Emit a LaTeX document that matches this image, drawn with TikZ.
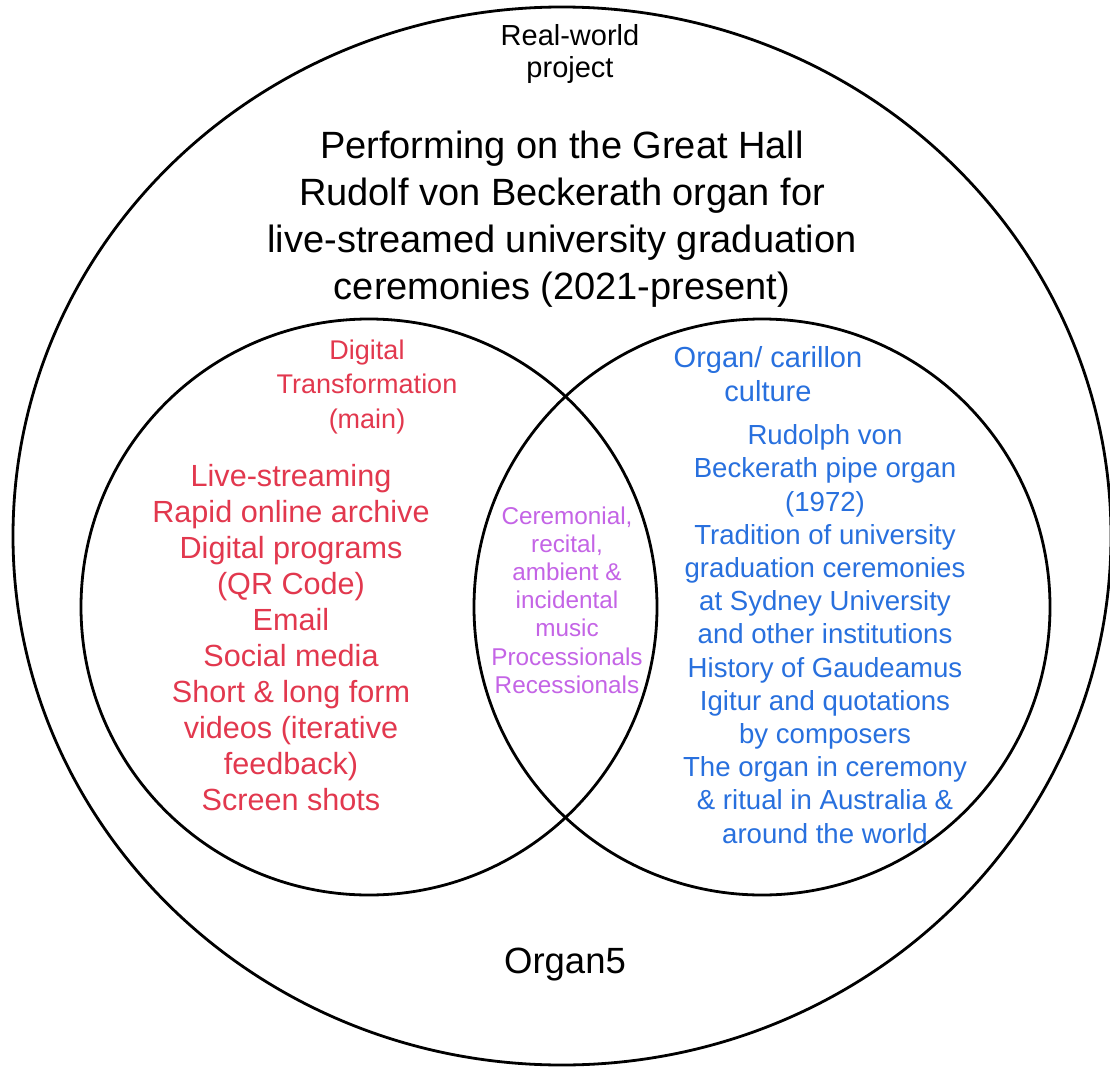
\documentclass[tikz,border=0pt]{standalone}
\usepackage{fontspec}
\setmainfont{Liberation Sans}
\definecolor{dtred}{RGB}{226,56,78}
\definecolor{ocblue}{RGB}{40,112,222}
\definecolor{mixpurple}{RGB}{196,100,230}
\tikzset{
  ring/.style={draw=black, line width=2.8pt},
  txt/.style={inner sep=0pt, align=center},
}
\newcommand{\fs}[2]{\fontsize{#1}{#2}\selectfont}
\begin{document}
\begin{tikzpicture}[x=1pt,y=-1pt]
\useasboundingbox (0,0) rectangle (1110,1067);
\fill[white] (0,0) rectangle (1110,1067);
% circles
\draw[ring] (562,536) ellipse [x radius=549, y radius=529];
\draw[ring] (369,607) circle [radius=288];
\draw[ring] (762,607) circle [radius=288];
% texts
\node[txt, font=\fs{29}{32}] (rw) at (570,54) {Real-world\\project};
\node[txt, font=\fs{38}{47}] (title) at (562,219) {Performing on the Great Hall\\Rudolf von Beckerath organ for\\live-streamed university graduation\\ceremonies (2021-present)};
\node[txt, font=\fs{27}{34.5}, text=dtred] (dth) at (367,387) {Digital\\Transformation\\(main)};
\node[txt, font=\fs{30.6}{36}, text=dtred] (dtb) at (291,638) {Live-streaming\\Rapid online archive\\Digital programs\\(QR Code)\\Email\\Social media\\Short \& long form\\videos (iterative\\feedback)\\Screen shots};
\node[txt, font=\fs{29}{34}, text=ocblue] (och) at (768,374) {Organ/ carillon\\culture};
\node[txt, font=\fs{27.6}{33.2}, text=ocblue] (ocb) at (825,634) {Rudolph von\\Beckerath pipe organ\\(1972)\\Tradition of university\\graduation ceremonies\\at Sydney University\\and other institutions\\History of Gaudeamus\\Igitur and quotations\\by composers\\The organ in ceremony\\\& ritual in Australia \&\\around the world};
\node[txt, font=\fs{24.3}{28.2}, text=mixpurple] (mix) at (567,600) {Ceremonial,\\recital,\\ambient \&\\incidental\\music\\Processionals\\Recessionals};
\node[txt, font=\fs{36.5}{40}] (o5) at (565,965) {Organ5};
\end{tikzpicture}
\end{document}
